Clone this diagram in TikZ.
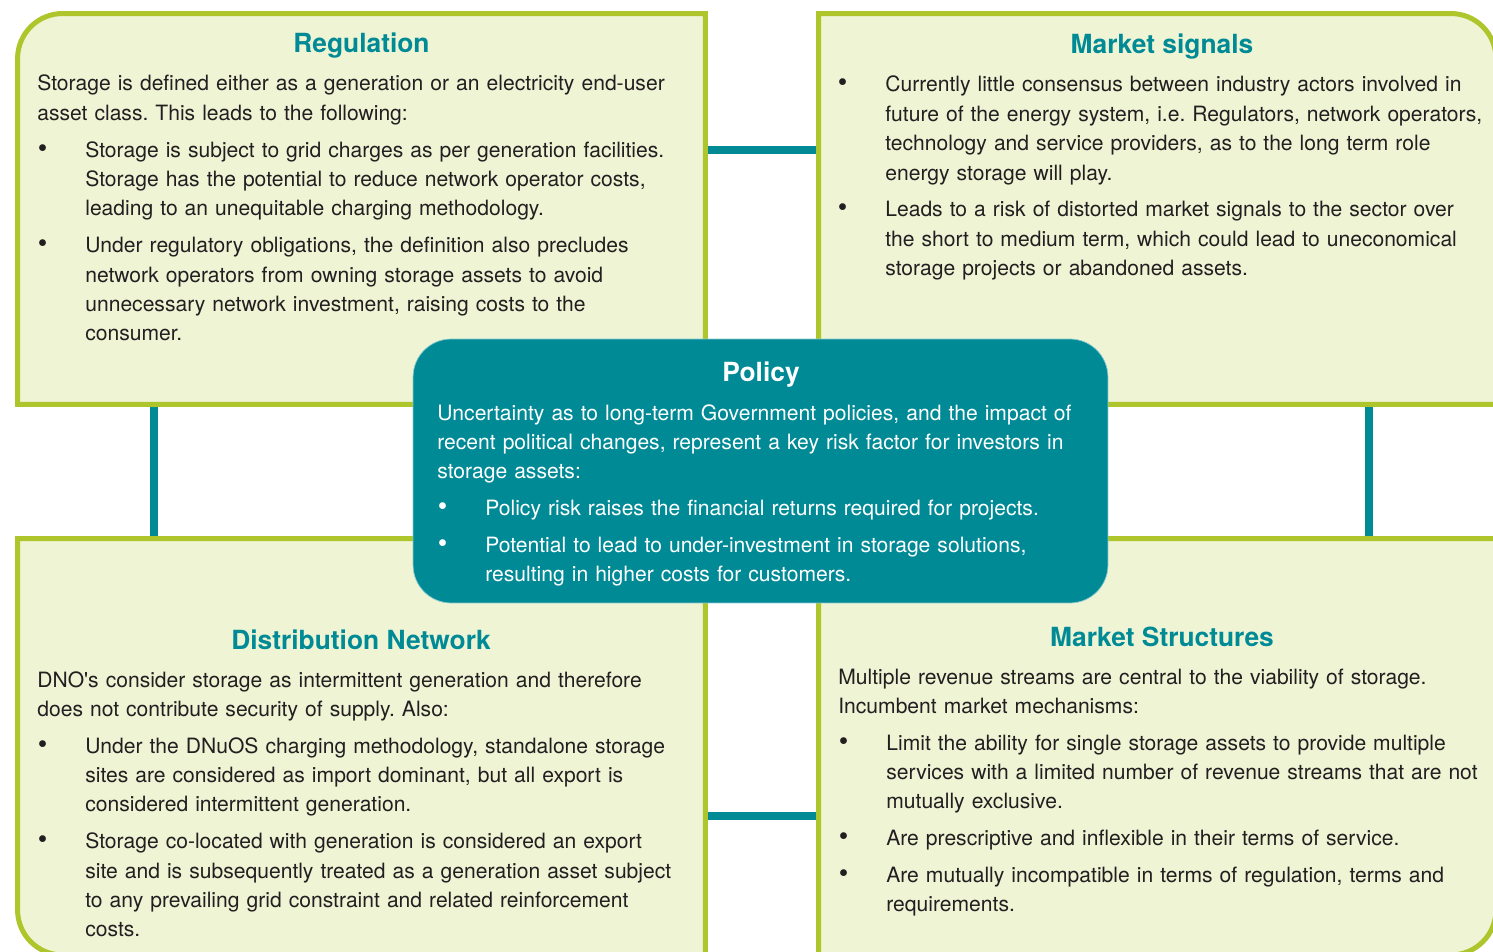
\documentclass[tikz,border=0pt]{standalone}
\usepackage{fontspec}
\setmainfont{TeX Gyre Heros}
\usepackage{xcolor}
\usepackage{tikz}
\usetikzlibrary{positioning}

\definecolor{lime}{HTML}{AFC52C}
\definecolor{pale}{HTML}{EFF4D5}
\definecolor{petrol}{HTML}{008A96}
\definecolor{ink}{HTML}{231F20}

% bullet paragraph, hanging at 48px
\newcommand{\bstart}[1]{\leftskip=0.96cm\noindent\llap{\makebox[0.96cm][l]{\hspace{0.01cm}{\fontsize{15.5}{15.5}\selectfont\textbullet}}}#1\par}
\newcommand{\bitem}[1]{\par\bstart{#1}}

\begin{document}
\begin{tikzpicture}[
        x=0.02cm, y=-0.02cm,
        panel/.style={
            rectangle,
            inner sep=0pt,
            outer sep=0pt
        },
        frame/.style={
            draw=lime,
            fill=pale,
            line width=0.1cm
        },
        link/.style={
            draw=petrol,
            line width=0.16cm
        },
        title/.style={
            anchor=base,
            inner sep=0pt,
            text=petrol,
            font=\fontsize{15}{18}\selectfont\bfseries
        },
        body/.style={
            anchor=base west,
            inner sep=0pt,
            text width=14cm,
            align=left,
            text=ink,
            font=\fontsize{12}{16.7}\selectfont,
            execute at begin node={\frenchspacing\setlength{\parskip}{0.15cm}}
        }
    ]
        \useasboundingbox (0,0) rectangle (1493,952);

        % Nodes
        \node[panel, minimum width=13.76cm, minimum height=7.82cm] (reg) at (361.5,209) {};
        \node[panel, minimum width=13.55cm, minimum height=7.82cm] (msig) at (1157.25,209) {};
        \node[panel, minimum width=13.76cm, minimum height=8.33cm] (dist) at (361.5,746.75) {};
        \node[panel, minimum width=13.55cm, minimum height=8.33cm] (mstr) at (1157.25,746.75) {};

        % Edges
        \draw[link] ([yshift=1.18cm]reg.east) -- ([yshift=1.18cm]msig.west);
        \draw[link] ([yshift=-1.385cm]dist.east) -- ([yshift=-1.385cm]mstr.west);
        \draw[link] ([xshift=-4.15cm]reg.south) -- ([xshift=-4.15cm]dist.north);
        \draw[link] ([xshift=4.235cm]msig.south) -- ([xshift=4.235cm]mstr.north);

        % Boxes
        \draw[frame] (reg.south west) -- ([yshift=-0.9cm]reg.north west)
            arc[start angle=180, end angle=90, radius=0.9cm]
            -- (reg.north east) -- (reg.south east) -- cycle;
        \draw[frame] (msig.south west) -- (msig.north west)
            -- ([xshift=-0.9cm]msig.north east)
            arc[start angle=90, end angle=0, radius=0.9cm]
            -- (msig.south east) -- cycle;
        \draw[frame] (dist.north west) -- (dist.north east) -- (dist.south east)
            -- ([xshift=0.9cm]dist.south west)
            arc[start angle=270, end angle=180, radius=0.9cm] -- cycle;
        \draw[frame] (mstr.north west) -- (mstr.north east)
            -- ([yshift=0.9cm]mstr.south east)
            arc[start angle=0, end angle=-90, radius=0.9cm]
            -- (mstr.south west) -- cycle;

        \node[panel, fill=petrol, draw=white!55!petrol, line width=0.4pt,
            rounded corners=0.76cm, minimum width=13.9cm, minimum height=5.28cm] (policy) at (760.5,471) {};

        % Texts
        \node[title] (regtitle) at (361.5,53) {Regulation};
        \node[body] (regtext) at (37,91) {%
            Storage is defined either as a generation or an electricity end-user\newline
            asset class. This leads to the following:
            \bitem{Storage is subject to grid charges as per generation facilities.\newline
            Storage has the potential to reduce network operator costs,\newline
            leading to an unequitable charging methodology.}
            \bitem{Under regulatory obligations, the definition also precludes\newline
            network operators from owning storage assets to avoid\newline
            unnecessary network investment, raising costs to the\newline
            consumer.}};

        \node[title] (msigtitle) at (1162,54) {Market signals};
        \node[body] (msigtext) at (837,92) {%
            \bstart{Currently little consensus between industry actors involved in\newline
            future of the energy system, i.e. Regulators, network operators,\newline
            technology and service providers, as to the long term role\newline
            energy storage will play.}
            \bitem{Leads to a risk of distorted market signals to the sector over\newline
            the short to medium term, which could lead to uneconomical\newline
            storage projects or abandoned assets.}};

        \node[title, text=white] (poltitle) at (761,382) {Policy};
        \node[body, text=white] (poltext) at (437,420) {%
            Uncertainty as to long-term Government policies, and the impact of\newline
            recent political changes, represent a key risk factor for investors in\newline
            storage assets:
            \bitem{Policy risk raises the financial returns required for projects.}
            \bitem{Potential to lead to under-investment in storage solutions,\newline
            resulting in higher costs for customers.}};

        \node[title] (disttitle) at (361,649) {Distribution Network};
        \node[body] (disttext) at (37,687) {%
            DNO\textquotesingle s consider storage as intermittent generation and therefore\newline
            does not contribute security of supply. Also:
            \bitem{Under the DNuOS charging methodology, standalone storage\newline
            sites are considered as import dominant, but all export is\newline
            considered intermittent generation.}
            \bitem{Storage co-located with generation is considered an export\newline
            site and is subsequently treated as a generation asset subject\newline
            to any prevailing grid constraint and related reinforcement\newline
            costs.}};

        \node[title] (mstrtitle) at (1162,646) {Market Structures};
        \node[body] (mstrtext) at (838,684) {%
            Multiple revenue streams are central to the viability of storage.\newline
            Incumbent market mechanisms:
            \bitem{Limit the ability for single storage assets to provide multiple\newline
            services with a limited number of revenue streams that are not\newline
            mutually exclusive.}
            \bitem{Are prescriptive and inflexible in their terms of service.}
            \bitem{Are mutually incompatible in terms of regulation, terms and\newline
            requirements.}};
    \end{tikzpicture}
\end{document}
